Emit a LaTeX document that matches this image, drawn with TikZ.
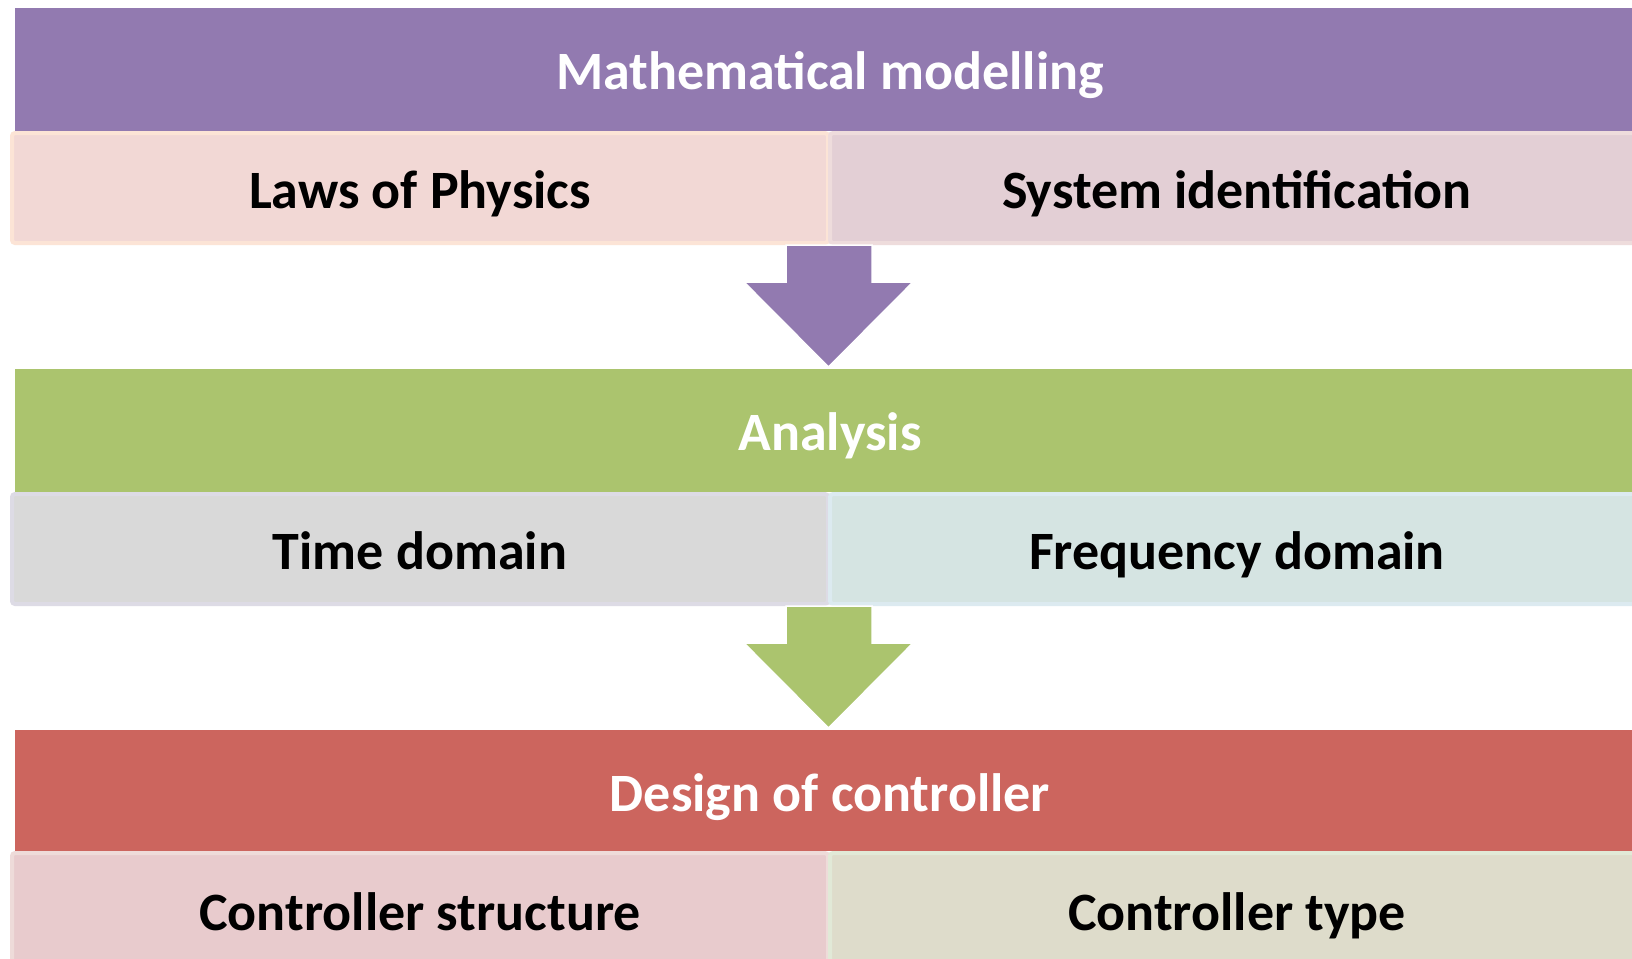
\documentclass[tikz,border=0pt]{standalone}
\usepackage{fontspec}
\setmainfont{Carlito}
\begin{document}
\begin{tikzpicture}[x=1pt,y=-1pt,
  bartext/.style={anchor=base, font=\bfseries\fontsize{54}{60}\selectfont, text=white},
  sub/.style={anchor=base, font=\bfseries\fontsize{54}{60}\selectfont, text=black},
  panel/.style 2 args={fill=#1, draw=#2, line width=4pt, rounded corners=3pt},
  flow/.style={fill=#1, draw=white, line width=1.5pt, line join=miter}]
\definecolor{mpurple}{HTML}{927AB0}
\definecolor{mgreen}{HTML}{ABC46E}
\definecolor{mred}{HTML}{CC655E}
\definecolor{lawsfill}{HTML}{F2D8D5}\definecolor{lawsline}{HTML}{FCE4D6}
\definecolor{sysfill}{HTML}{E3CFD5}\definecolor{sysline}{HTML}{EEDCDC}
\definecolor{timefill}{HTML}{D9D9D9}\definecolor{timeline}{HTML}{DDDBE5}
\definecolor{freqfill}{HTML}{D5E4E2}\definecolor{freqline}{HTML}{DCEAF0}
\definecolor{strfill}{HTML}{E8CBCD}\definecolor{strline}{HTML}{EEDBD9}
\definecolor{typefill}{HTML}{DEDCCB}\definecolor{typeline}{HTML}{E1E9D7}
\useasboundingbox (0,0) rectangle (1632,958);
\fill[white] (0,0) rectangle (1632,958);

% level 1: modelling
\fill[mpurple] (15,8) rectangle (1645,131);
\node[bartext] (mm) at (830,89) {Mathematical modelling};
\draw[panel={lawsfill}{lawsline}] (12,133) rectangle (828,243);
\draw[panel={sysfill}{sysline}] (830,133) rectangle (1660,243);
\node[sub] (laws) at (420,208) {Laws of Physics};
\node[sub] (sysid) at (1237,208) {System identification};

% level 2: analysis
\fill[mgreen] (15,369) rectangle (1645,492);
\node[bartext] (an) at (830,450) {Analysis};
\draw[panel={timefill}{timeline}] (12,494) rectangle (828,604);
\draw[panel={freqfill}{freqline}] (830,494) rectangle (1660,604);
\node[sub] (time) at (420,569) {Time domain};
\node[sub] (freq) at (1237,569) {Frequency domain};

% level 3: design
\fill[mred] (15,730) rectangle (1645,851);
\node[bartext] (dc) at (830,811) {Design of controller};
\draw[panel={strfill}{strline}] (12,853) rectangle (828,980);
\draw[panel={typefill}{typeline}] (830,853) rectangle (1660,980);
\node[sub] (cstr) at (420,930) {Controller structure};
\node[sub] (ctype) at (1237,930) {Controller type};

% block arrows between levels
\draw[flow=mpurple] (786,245) -- (786,282) -- (744,282) -- (828.5,367) -- (913,282) -- (872,282) -- (872,245) -- cycle;
\draw[flow=mgreen] (786,606) -- (786,643) -- (744,643) -- (828.5,728) -- (913,643) -- (872,643) -- (872,606) -- cycle;
\end{tikzpicture}
\end{document}
